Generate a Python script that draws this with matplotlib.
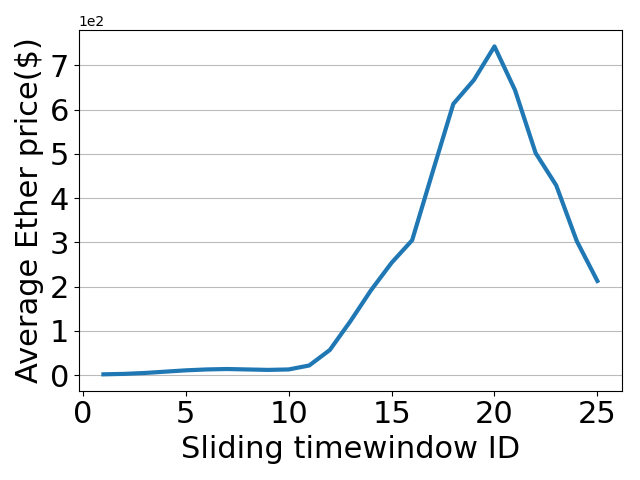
import matplotlib
matplotlib.use("Agg")
import matplotlib.pyplot as plt
import numpy as np

window_ids = np.arange(1, 26)
avg_price = [2, 3, 5, 8, 11, 13, 14, 13, 12, 13, 22, 57, 122, 192, 254,
             305, 460, 613, 667, 743, 644, 502, 429, 303, 213]


def main():
    fig, ax = plt.subplots(figsize=(6.4, 4.8), dpi=100)
    ax.plot(window_ids, avg_price, lw=3, color="#1f77b4")
    ax.yaxis.grid(True, color="#bbbbbb")
    ax.set_axisbelow(True)
    ax.set_yticks(np.arange(0, 800, 100))
    ax.ticklabel_format(axis="y", style="sci", scilimits=(0, 0))
    ax.set_xlabel("Sliding timewindow ID", fontsize=22)
    ax.set_ylabel("Average Ether price($)", fontsize=22)
    ax.tick_params(labelsize=22)
    ax.set_xticks([0, 5, 10, 15, 20, 25])
    fig.subplots_adjust(left=0.123, right=0.972, top=0.9375, bottom=0.186)
    fig.savefig("out.png")


if __name__ == '__main__':
    main()
